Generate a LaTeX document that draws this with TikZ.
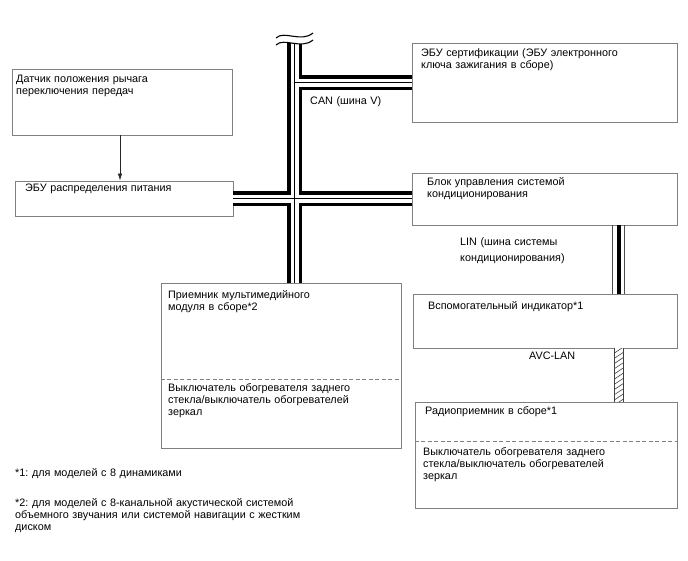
\documentclass[tikz,border=0pt]{standalone}
\usepackage{fontspec}
\setmainfont{Liberation Sans}
\frenchspacing
\usetikzlibrary{arrows.meta,calc}
\definecolor{boxgray}{RGB}{128,128,128}
\begin{document}
\frenchspacing
\begin{tikzpicture}[x=1pt,y=-1pt,
  box/.style={draw=boxgray, line width=0.9pt, rectangle, inner sep=0pt},
  txt/.style={font=\fontsize{10.8}{12}\selectfont, anchor=base west, inner sep=0pt, align=left, text width=300pt},
  divider/.style={draw=boxgray, line width=0.9pt, dash pattern=on 4pt off 2.5pt},
  buswall/.style={line width=15.5pt, black},
  busgap/.style={line width=8pt, white},
  buscore/.style={line width=0.9pt, black},
]
\useasboundingbox (0,0) rectangle (688,560);

% boxes
\node[box, minimum width=220pt, minimum height=66pt]  (sensor) at (122,102) {};
\node[box, minimum width=218pt, minimum height=35pt]  (pwr)    at (124,198.5) {};
\node[box, minimum width=265pt, minimum height=79pt]  (cert)   at (544.5,82.5) {};
\node[box, minimum width=265pt, minimum height=52pt]  (ac)     at (544.5,199) {};
\node[box, minimum width=240pt, minimum height=165pt] (mm)     at (281,365.5) {};
\node[box, minimum width=264pt, minimum height=54pt]  (aux)    at (545,321) {};
\node[box, minimum width=262pt, minimum height=106pt] (radio)  at (546,455) {};

% texts
\node[txt] (tsensor) at (16,82) {Датчик положения рычага\\переключения передач};
\node[txt] (tpwr) at (25,191.5) {ЭБУ распределения питания};
\node[txt] (tcert) at (421,56.5) {ЭБУ сертификации (ЭБУ электронного\\ключа зажигания в сборе)};
\node[txt] (tac) at (427,185.5) {Блок управления системой\\кондиционирования};
\node[txt] (tmm) at (168,298.5) {Приемник мультимедийного\\модуля в сборе*2};
\node[txt] (tmm2) at (168,391.5) {Выключатель обогревателя заднего\\стекла/выключатель обогревателей\\зеркал};
\node[txt] (taux) at (428,309.5) {Вспомогательный индикатор*1};
\node[txt] (tradio) at (425,414.5) {Радиоприемник в сборе*1};
\node[txt] (tradio2) at (423,455.5) {Выключатель обогревателя заднего\\стекла/выключатель обогревателей\\зеркал};
\node[txt] (tcan) at (310,104) {CAN (шина V)};
\node[txt, font=\fontsize{10.8}{16}\selectfont] (tlin) at (460,245.5) {LIN (шина системы\\кондиционирования)};
\node[txt] (tavc) at (529,359.5) {AVC-LAN};
\node[txt] (tfn1) at (15,476.5) {*1: для моделей с 8 динамиками};
\node[txt] (tfn2) at (15,506.5) {*2: для моделей с 8-канальной акустической системой\\объемного звучания или системой навигации с жестким\\диском};

% dividers
\coordinate (mmdiv) at (0,379);
\coordinate (radiodiv) at (0,441);
\draw[divider] (mm.west |- mmdiv) -- (mm.east |- mmdiv);
\draw[divider] (radio.west |- radiodiv) -- (radio.east |- radiodiv);

% arrow
\coordinate (ax) at (120,0);
\draw[black!85, line width=0.7pt, -{Latex[length=7pt,width=4.5pt]}] (sensor.south -| ax) -- (pwr.north -| ax);

% CAN bus
\coordinate (vtop) at (294.5,40);
\draw[buswall] (vtop) -- (vtop |- mm.north) (vtop |- cert.west) -- (cert.west) (pwr.east) -- (pwr.east -| ac.west);
\draw[busgap]  (vtop) -- (vtop |- mm.north) (vtop |- cert.west) -- (cert.west) (pwr.east) -- (pwr.east -| ac.west);
\draw[buscore] (vtop) -- (vtop |- mm.north) (vtop |- cert.west) -- (cert.west) (pwr.east) -- (pwr.east -| ac.west);

% break symbol
\fill[white] (276,38) .. controls (284,30) and (301,43) .. (313,33)
  -- (313,40) .. controls (301,50) and (284,37) .. (276,45) -- cycle;
\draw[black, line width=1.1pt] (276,38) .. controls (284,30) and (301,43) .. (313,33);
\draw[black, line width=1.1pt] (276,45) .. controls (284,37) and (301,50) .. (313,40);

% LIN bus
\coordinate (linL) at (612.7,0);
\coordinate (linR) at (624.3,0);
\coordinate (linx) at (618.5,0);
\draw[line width=0.9pt, black!70] (ac.south -| linL) -- (aux.north -| linL);
\draw[line width=0.9pt, black!70] (ac.south -| linR) -- (aux.north -| linR);
\draw[line width=4pt, black] (ac.south -| linx) -- (aux.north -| linx);

% AVC-LAN bus
\coordinate (avcx) at (619,0);
\draw[line width=9.4pt, black!75] (aux.south -| avcx) -- (radio.north -| avcx);
\draw[line width=7.8pt, white] (aux.south -| avcx) -- (radio.north -| avcx);
\begin{scope}
  \clip ($(aux.south -| avcx)+(-3.9,0)$) rectangle ($(radio.north -| avcx)+(3.9,0)$);
  \foreach \k in {0,...,12}
    \draw[black!75, line width=0.6pt] (613,{354+\k*5.2}) -- (625,{346+\k*5.2});
\end{scope}
\end{tikzpicture}
\end{document}
